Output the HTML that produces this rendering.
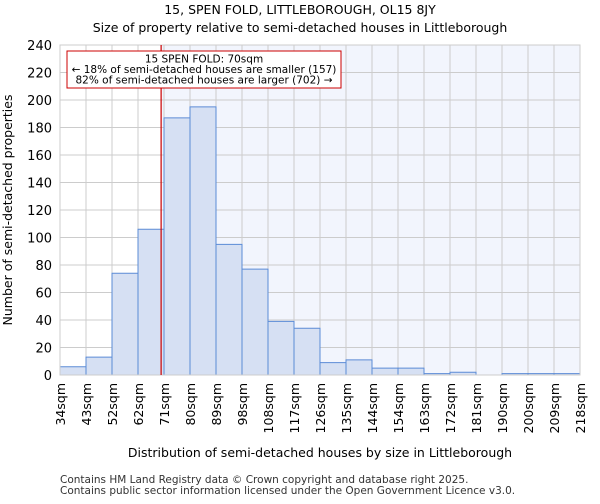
<!DOCTYPE html>
<html><head><meta charset="utf-8"><style>
body{margin:0;background:#fff;font-family:"DejaVu Sans","Liberation Sans",sans-serif}
</style></head><body>
<svg id="c" width="600" height="500" xmlns="http://www.w3.org/2000/svg">
<text x="300" y="14" text-anchor="middle" font-size="12.5">15, SPEN FOLD, LITTLEBOROUGH, OL15 8JY</text>
<text x="300" y="32" text-anchor="middle" font-size="12.5">Size of property relative to semi-detached houses in Littleborough</text>
<g id="plot"></g>
<text x="320" y="457" text-anchor="middle" font-size="12.5">Distribution of semi-detached houses by size in Littleborough</text>
<text x="12" y="210" text-anchor="middle" font-size="12.5" transform="rotate(-90 12 210)">Number of semi-detached properties</text>
<text x="60" y="483" font-size="10.5" fill="#333">Contains HM Land Registry data © Crown copyright and database right 2025.</text>
<text x="60" y="494" font-size="10.5" fill="#333">Contains public sector information licensed under the Open Government Licence v3.0.</text>
</svg>
<script>
const tickLabels=["34sqm","43sqm","52sqm","62sqm","71sqm","80sqm","89sqm","98sqm","108sqm","117sqm","126sqm","135sqm","144sqm","154sqm","163sqm","172sqm","181sqm","190sqm","200sqm","209sqm","218sqm"];
const counts=[6,13,74,106,187,195,95,77,39,34,9,11,5,5,1,2,0,1,1,1];
const yTicks=[0,20,40,60,80,100,120,140,160,180,200,220,240];
const subjectPos=3+8/9;
const L=60,R=580,T=45,B=375,yMax=240;
const NS="http://www.w3.org/2000/svg";
const g=document.getElementById('plot');
const bw=(R-L)/counts.length;
const x=i=>L+i*bw;
const y=v=>B-v/yMax*(B-T);
function mk(t,a){const e=document.createElementNS(NS,t);for(const k in a)e.setAttribute(k,a[k]);g.appendChild(e);return e;}
const sx=x(subjectPos);
let bg=mk('rect',{x:sx,y:T,width:R-sx,height:B-T,fill:'#f2f5fd'});


yTicks.forEach(v=>{
 let l=mk('line',{x1:L,x2:R,y1:y(v),y2:y(v),stroke:'#ccc'});
 
 
 let t=mk('text',{x:L-8,y:y(v)+5,'text-anchor':'end','font-size':'13'});t.textContent=v;
 
 
});
tickLabels.forEach((s,i)=>{
 let l=mk('line',{x1:x(i),x2:x(i),y1:T,y2:B,stroke:'#ccc'});
 
 
 let t=mk('text',{x:x(i)+5,y:B+8,'text-anchor':'end','font-size':'12.5',transform:`rotate(-90 ${x(i)+5} ${B+8})`});t.textContent=s;
 
 
});
counts.forEach((v,i)=>{
 if(v<=0)return;
 let r=mk('rect',{x:x(i),y:y(v),width:bw,height:B-y(v),fill:'#d6e0f3',stroke:'#5b8bd6','stroke-width':1});
 
 
});
let ax=mk('rect',{x:L,y:T,width:R-L,height:B-T,fill:'none',stroke:'#ccc'});


let rl=mk('line',{x1:sx,x2:sx,y1:T,y2:B,stroke:'#cc0000','stroke-width':1.2});


let box=mk('rect',{x:67,y:51,width:274,height:37,fill:'#fff',stroke:'#cc0000'});


["15 SPEN FOLD: 70sqm","← 18% of semi-detached houses are smaller (157)","82% of semi-detached houses are larger (702) →"].forEach((s,i)=>{
 let t=mk('text',{x:204,y:62.5+i*10.5,'text-anchor':'middle','font-size':'10.5'});t.textContent=s;
 
 
});
</script>
</body></html>
